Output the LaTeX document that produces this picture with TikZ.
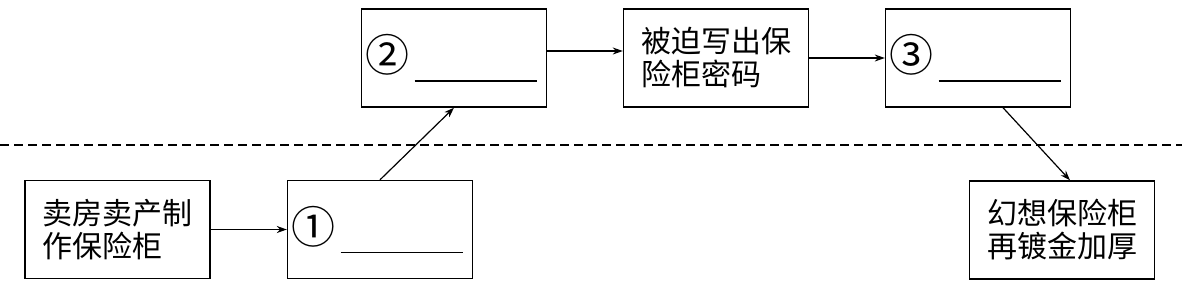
\documentclass[tikz,border=0pt]{standalone}
\usepackage{fontspec}
\newfontfamily\cjk{Noto Sans CJK SC}
\usetikzlibrary{arrows.meta}
\tikzset{
  box/.style={draw, line width=0.7pt, minimum width=92.5pt, minimum height=49pt,
    inner sep=0pt, align=left, font=\cjk\fontsize{15}{16.5}\selectfont},
  link/.style={-{Stealth[length=5pt,width=3.5pt]}, line width=0.6pt},
}
\newcommand{\blankline}[1]{{\fontsize{22}{22}\selectfont #1}\hspace{2.5pt}\rule[-5pt]{61pt}{0.7pt}\hspace{3pt}}

\begin{document}
\begin{tikzpicture}[x=0.5pt,y=-0.5pt]
    \useasboundingbox (0,0) rectangle (1182,285);
    % linia podzialu
    \coordinate (left) at (0,145);
    \coordinate (right) at (1182,145);
    \draw[dash pattern=on 4.5pt off 2.5pt, line width=0.9pt] (left) -- (right);
    % dolny rzad
    \node[box] (sell) at (117.5,229.5) {卖房卖产制\\作保险柜};
    \node[box] (q1) at (380,229.5) {\blankline{①}};
    \node[box] (dream) at (1062,230) {幻想保险柜\\再镀金加厚};
    % gorny rzad
    \node[box] (q2) at (454,58) {\blankline{②}};
    \node[box] (code) at (716,58) {被迫写出保\\险柜密码};
    \node[box] (q3) at (978,58) {\blankline{③}};
    % strzalki
    \draw[link] (sell) -- (q1);
    \draw[link] (q1.north) -- (q2.south);
    \draw[link] ([yshift=3.5pt]q2.east) -- ([yshift=3.5pt]code.west);
    \draw[link] (code) -- (q3);
    \draw[link] ([xshift=12.5pt]q3.south) -- ([xshift=4pt]dream.north);
\end{tikzpicture}
\end{document}
